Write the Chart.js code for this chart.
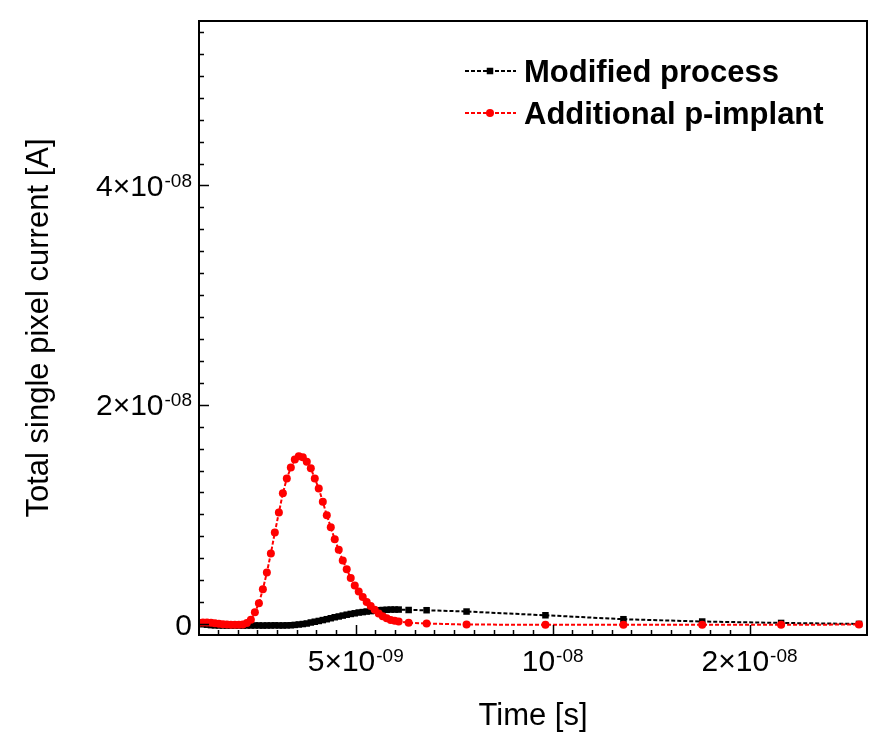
<!DOCTYPE html>
<html>
<head>
<meta charset="utf-8">
<title>Total single pixel current</title>
<script src="https://cdn.jsdelivr.net/npm/chart.js@4.4.1/dist/chart.umd.min.js"></script>
<style>
    body { margin: 0; background: #fff; }
</style>
</head>
<body>
<canvas id="current-chart" width="888" height="755"></canvas>
<script>
// time points [s], same for both curves
let time = [
    2.880e-9, 2.920e-9, 2.962e-9, 3.004e-9, 3.046e-9, 3.089e-9, 3.133e-9, 3.177e-9, 3.222e-9, 3.268e-9,
    3.314e-9, 3.361e-9, 3.409e-9, 3.457e-9, 3.506e-9, 3.556e-9, 3.606e-9, 3.657e-9, 3.709e-9, 3.761e-9,
    3.815e-9, 3.869e-9, 3.923e-9, 3.979e-9, 4.035e-9, 4.092e-9, 4.150e-9, 4.209e-9, 4.269e-9, 4.329e-9,
    4.390e-9, 4.453e-9, 4.516e-9, 4.580e-9, 4.644e-9, 4.710e-9, 4.777e-9, 4.844e-9, 4.913e-9, 4.983e-9,
    5.053e-9, 5.125e-9, 5.197e-9, 5.271e-9, 5.345e-9, 5.421e-9, 5.498e-9, 5.576e-9, 5.655e-9, 5.735e-9,
    5.816e-9, 6.024e-9, 6.417e-9, 7.386e-9, 9.750e-9, 1.283e-8, 1.693e-8, 2.235e-8, 2.940e-8
];

// total current [A]
let modified = [
    3e-11, -2e-11, -6e-11, -1.0e-10, -1.2e-10, -1.3e-10, -1.3e-10, -1.4e-10, -1.3e-10, -1.3e-10,
    -1.3e-10, -1.4e-10, -1.3e-10, -1.3e-10, -1.3e-10, -1.3e-10, -1.4e-10, -1.3e-10, -1.3e-10, -1.2e-10,
    -1.3e-10, -1.3e-10, -1.2e-10, -1.1e-10, -8e-11, -4e-11, 0, 5e-11, 1.4e-10, 2.1e-10,
    2.8e-10, 3.6e-10, 4.4e-10, 5.3e-10, 6.2e-10, 6.9e-10, 7.7e-10, 8.5e-10, 9.2e-10, 9.8e-10,
    1.05e-9, 1.09e-9, 1.14e-9, 1.18e-9, 1.22e-9, 1.26e-9, 1.28e-9, 1.30e-9, 1.32e-9, 1.32e-9,
    1.32e-9, 1.28e-9, 1.26e-9, 1.14e-9, 8.0e-10, 4.4e-10, 2.3e-10, 1.0e-10, 1e-11
];

let pImplant = [
    1.2e-10, 1.4e-10, 1.4e-10, 1.1e-10, 7e-11, 3e-11, -2e-11, -5e-11, -6e-11, -7e-11,
    -7e-11, -5e-11, 9e-11, 3.9e-10, 1.07e-9, 1.89e-9, 3.17e-9, 4.69e-9, 6.44e-9, 8.35e-9,
    1.017e-8, 1.193e-8, 1.327e-8, 1.427e-8, 1.500e-8, 1.530e-8, 1.522e-8, 1.481e-8, 1.420e-8, 1.327e-8,
    1.236e-8, 1.115e-8, 9.92e-9, 8.83e-9, 7.73e-9, 6.77e-9, 5.80e-9, 5.00e-9, 4.20e-9, 3.52e-9,
    2.97e-9, 2.46e-9, 2.01e-9, 1.65e-9, 1.30e-9, 9.7e-10, 7.2e-10, 5.2e-10, 3.7e-10, 2.9e-10,
    2.3e-10, 1.2e-10, 5e-11, -5e-11, -6e-11, -6e-11, -6e-11, -6e-11, -5e-11
];

let seriesNames = ['Modified process', 'Additional p-implant'];

let xTicks = [5e-9, 1e-8, 2e-8];
let xTickLabels = [['5×10', '-09'], ['10', '-08'], ['2×10', '-08']];
let yTicks = [0, 2e-8, 4e-8];
let yTickLabels = [['0', ''], ['2×10', '-08'], ['4×10', '-08']];

const FONT = '"Liberation Sans", Arial, sans-serif';

function toPoints(ys) {
    return time.map((t, i) => ({x: t, y: ys[i]}));
}

// label like 2x10^-08, drawn with a raised exponent
function powLabel(ctx, base, exp, x, y, align) {
    ctx.font = '30px ' + FONT;
    let bw = ctx.measureText(base).width;
    ctx.font = '19px ' + FONT;
    let ew = exp ? ctx.measureText(exp).width + 1 : 0;
    let left = align === 'right' ? x - bw - ew : x - (bw + ew) / 2;
    ctx.textAlign = 'left';
    ctx.textBaseline = 'alphabetic';
    ctx.font = '30px ' + FONT;
    ctx.fillText(base, left, y);
    if (exp) {
        ctx.font = '19px ' + FONT;
        ctx.fillText(exp, left + bw + 1, y - 9);
    }
}

function marker(ctx, style, x, y, r, color) {
    ctx.fillStyle = color;
    if (style === 'rect') {
        let s = r * Math.SQRT1_2;
        ctx.fillRect(x - s, y - s, 2 * s, 2 * s);
    } else {
        ctx.beginPath();
        ctx.arc(x, y, r, 0, Math.PI * 2);
        ctx.fill();
    }
}

const frameAndTicks = {
    id: 'frameAndTicks',
    afterDraw(chart) {
        const {ctx, chartArea: a, scales: {x, y}} = chart;
        ctx.save();
        ctx.strokeStyle = '#000';
        ctx.fillStyle = '#000';

        // minor ticks: 10 steps per doubling on x, 2e-9 on y
        ctx.lineWidth = 1.5;
        ctx.beginPath();
        for (let j = -10; j <= 20; j++) {
            if (j % 10 === 0) continue;
            let v = 5e-9 * Math.pow(2, j / 10);
            if (v <= x.min || v >= x.max) continue;
            let px = Math.round(x.getPixelForValue(v)) + 0.5;
            ctx.moveTo(px, a.bottom);
            ctx.lineTo(px, a.bottom - 5);
        }
        for (let k = 1; k <= 27; k++) {
            if (k % 10 === 0) continue;
            let py = Math.round(y.getPixelForValue(k * 2e-9)) + 0.5;
            ctx.moveTo(a.left, py);
            ctx.lineTo(a.left + 5, py);
        }
        ctx.stroke();

        // major ticks
        ctx.beginPath();
        xTicks.forEach(v => {
            let px = Math.round(x.getPixelForValue(v)) + 0.5;
            ctx.moveTo(px, a.bottom);
            ctx.lineTo(px, a.bottom - 10);
        });
        yTicks.forEach(v => {
            let py = Math.round(y.getPixelForValue(v)) + 0.5;
            ctx.moveTo(a.left, py);
            ctx.lineTo(a.left + 10, py);
        });
        ctx.stroke();

        ctx.lineWidth = 2;
        ctx.strokeRect(a.left, a.top, a.right - a.left, a.bottom - a.top);

        // tick labels
        xTicks.forEach((v, i) => {
            powLabel(ctx, xTickLabels[i][0], xTickLabels[i][1], x.getPixelForValue(v), a.bottom + 36, 'center');
        });
        yTicks.forEach((v, i) => {
            powLabel(ctx, yTickLabels[i][0], yTickLabels[i][1], a.left - 7, y.getPixelForValue(v) + 10.5, 'right');
        });

        // legend
        chart.data.datasets.forEach((ds, i) => {
            let ly = 71 + 42 * i;
            ctx.strokeStyle = ds.borderColor;
            ctx.lineWidth = 2;
            ctx.setLineDash([4, 2]);
            ctx.beginPath();
            ctx.moveTo(465, ly);
            ctx.lineTo(516, ly);
            ctx.stroke();
            ctx.setLineDash([]);
            marker(ctx, ds.pointStyle, 490, ly, ds.pointRadius, ds.borderColor);
            ctx.fillStyle = '#000';
            ctx.font = 'bold 31px ' + FONT;
            ctx.textAlign = 'left';
            ctx.textBaseline = 'alphabetic';
            ctx.fillText(ds.label, 524, ly + 11);
        });
        ctx.restore();
    }
};

let ctx = document.getElementById('current-chart').getContext('2d');

let currentChart = new Chart(ctx, {
    type: 'line',
    data: {
        datasets: [{
            label: seriesNames[0],
            data: toPoints(modified),
            borderColor: '#000000',
            backgroundColor: '#000000',
            borderWidth: 2,
            borderDash: [4, 2],
            pointStyle: 'rect',
            pointRadius: 4.6,
            pointBorderWidth: 0,
            order: 1
        }, {
            label: seriesNames[1],
            data: toPoints(pImplant),
            borderColor: '#ff0000',
            backgroundColor: '#ff0000',
            borderWidth: 2,
            borderDash: [4, 2],
            pointStyle: 'circle',
            pointRadius: 4,
            pointBorderWidth: 0,
            order: 0
        }]
    },
    options: {
        responsive: false,
        animation: false,
        devicePixelRatio: 1,
        layout: {padding: {top: 21, right: 21, left: 0, bottom: 0}},
        plugins: {
            legend: {display: false},
            tooltip: {enabled: false}
        },
        scales: {
            x: {
                type: 'logarithmic',
                min: 2.88e-9,
                max: 3.024e-8,
                grid: {display: false, drawTicks: false},
                border: {display: false},
                ticks: {display: false},
                title: {
                    display: true,
                    text: 'Time [s]',
                    color: '#000',
                    font: {family: FONT, size: 31},
                    padding: {top: 62.4, bottom: 20.4}
                }
            },
            y: {
                type: 'linear',
                min: -1e-9,
                max: 5.5e-8,
                grid: {display: false, drawTicks: false},
                border: {display: false},
                ticks: {display: false},
                title: {
                    display: true,
                    text: 'Total single pixel current [A]',
                    color: '#000',
                    font: {family: FONT, size: 31},
                    padding: {top: 20.4, bottom: 141.4}
                }
            }
        }
    },
    plugins: [frameAndTicks]
});
</script>
</body>
</html>
